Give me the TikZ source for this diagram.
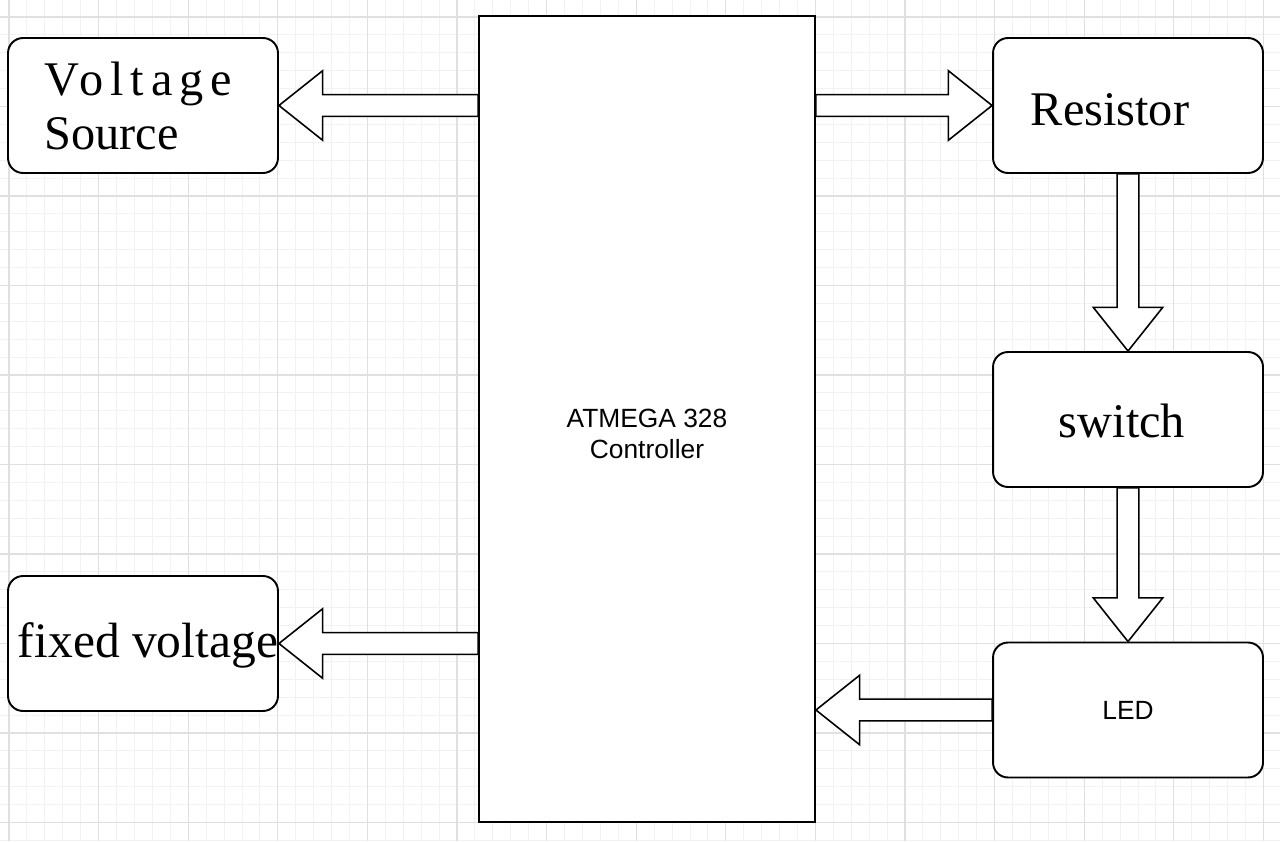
\documentclass[tikz,border=0pt]{standalone}
\usepackage{fontspec}
\setmainfont{Liberation Serif}
\setsansfont{Liberation Sans}
\usetikzlibrary{calc}

\tikzset{
  box/.style={draw, line width=1.1pt, rounded corners=0.3cm, minimum width=5.4cm, minimum height=2.7cm, inner sep=0pt},
  hollow/.style={draw, fill=white, line width=0.9pt, line join=miter},
  serif/.style={font=\fontsize{27.5}{31}\selectfont},
  sans/.style={font=\sffamily\fontsize{15}{17.6}\selectfont},
  minorline/.style={draw=black!5, line width=0.5pt},
  majorline/.style={draw=black!12, line width=0.7pt},
}

% hollow block arrow from #1 to the tip #2
\newcommand{\blockarrow}[2]{%
  \draw[hollow] let \p1=(#1), \p2=(#2),
    \n1={atan2(\y2-\y1,\x2-\x1)}, \n2={veclen(\x2-\x1,\y2-\y1)} in
    ($(\p1)+(\n1+90:6.2pt)$) -- ++(\n1:\n2-24.9pt) -- ++(\n1+90:13.6pt)
    -- (\p2) -- ($(\p2)+(\n1+180:24.9pt)+(\n1-90:19.8pt)$)
    -- ++(\n1+90:13.6pt) -- ($(\p1)+(\n1-90:6.2pt)$) -- cycle;}

\begin{document}
\begin{tikzpicture}[x=0.02cm,y=-0.02cm]
\useasboundingbox (0,0) rectangle (1280,841);
\fill[white] (0,0) rectangle (1280,841);

% grid
\foreach \k in {0,...,71} \draw[minorline] ({9+17.92*\k},0) -- ({9+17.92*\k},841);
\foreach \k in {0,...,46} \draw[minorline] (0,{17+17.9*\k}) -- (1280,{17+17.9*\k});
\foreach \k in {0,...,14} \draw[majorline] ({9+89.6*\k},0) -- ({9+89.6*\k},841);
\foreach \k in {0,...,9} \draw[majorline] (0,{17+89.5*\k}) -- (1280,{17+89.5*\k});

\node[draw, line width=1.1pt, minimum width=6.72cm, minimum height=16.12cm, fill=white] at (647,419) (ctrl) {};
\node[sans, align=center] at (647,434) (ctrltext) {ATMEGA 328\\Controller};

\node[box, fill=white] at (143,105.5) (vs) {};
\node[serif, align=left] at (138,106) (vstext) {{\addfontfeature{LetterSpace=14}Voltage}\\Source};
\node[box, fill=white] at (1128,105.5) (res) {};
\node[serif] at (1110,110) (restext) {Resistor};
\node[box, fill=white] at (1128,419.5) (sw) {};
\node[serif] at (1122,421) (swtext) {switch};
\node[box, fill=white, sans] at (1128,710) (led) {LED};
\node[box, fill=white] at (143,643.5) (fv) {};
\node[serif, font=\fontsize{28.2}{31}\selectfont] at (148,645) (fvtext) {fixed voltage};

\blockarrow{ctrl.west |- vs.east}{vs.east}
\blockarrow{ctrl.east |- res.west}{res.west}
\blockarrow{res.south}{sw.north}
\blockarrow{sw.south}{led.north}
\blockarrow{ctrl.west |- fv.east}{fv.east}
\blockarrow{led.west}{ctrl.east |- led.west}
\end{tikzpicture}
\end{document}
